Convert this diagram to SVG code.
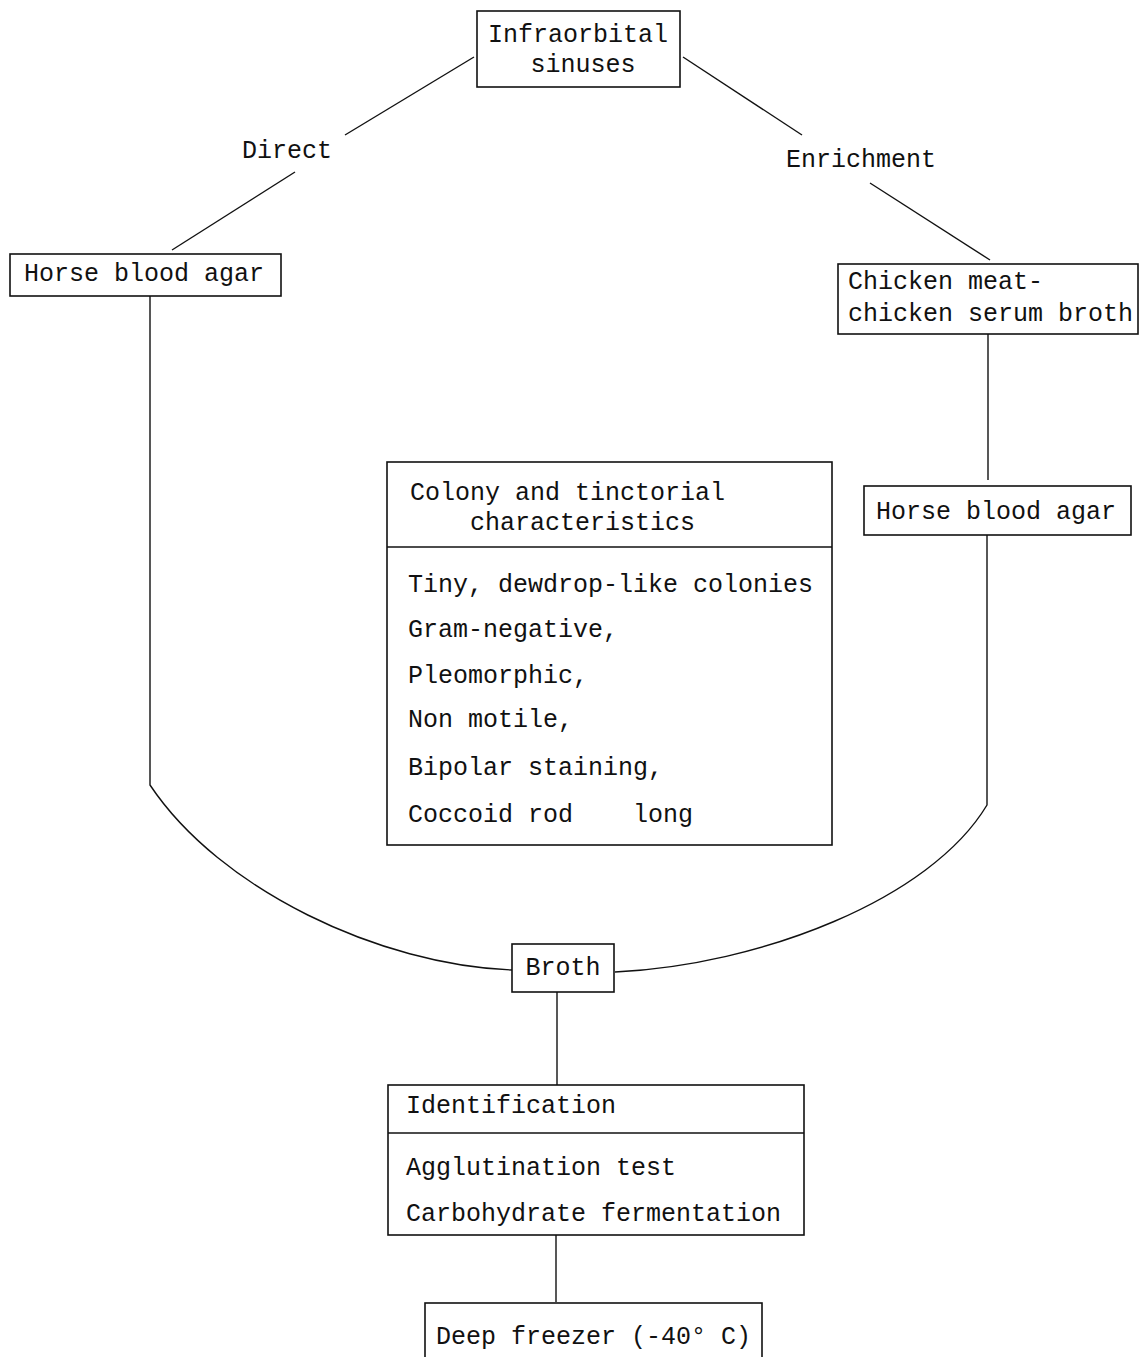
<svg xmlns="http://www.w3.org/2000/svg" width="1140" height="1357" viewBox="0 0 1140 1357">
<style>
.b{fill:none;stroke:#111;stroke-width:1.6}
.c{fill:none;stroke:#111;stroke-width:1.4}
text{font-family:"Liberation Mono","DejaVu Sans Mono",monospace;font-size:25px;fill:#111}
</style>
<rect width="1140" height="1357" fill="#fff"/>
<g id="connectors">
<path class="c" d="M474,57 L345,135"/>
<path class="c" d="M295,172 L172,250"/>
<path class="c" d="M683,57 L802,135"/>
<path class="c" d="M870,183 L990,260"/>
<path class="c" d="M988,334 L988,480"/>
<path class="c" d="M150,296 L150,785 C220,890 380,965 512,970"/>
<path class="c" d="M987,535 L987,805 C930,900 760,965 615,972"/>
<path class="c" d="M557,992 L557,1085"/>
<path class="c" d="M556,1235 L556,1302"/>
<text x="287" y="158" text-anchor="middle">Direct</text>
<text x="861" y="167" text-anchor="middle">Enrichment</text>
</g>
<g id="infraorbital">
<rect class="b" x="477" y="11" width="203" height="76"/>
<text x="578" y="42" text-anchor="middle">Infraorbital</text>
<text x="583" y="72" text-anchor="middle">sinuses</text>
</g>
<g id="hba-left">
<rect class="b" x="10" y="254" width="271" height="42"/>
<text x="24" y="281">Horse blood agar</text>
</g>
<g id="chicken">
<rect class="b" x="838" y="264" width="300" height="70"/>
<text x="848" y="289">Chicken meat-</text>
<text x="848" y="321">chicken serum broth</text>
</g>
<g id="hba-right">
<rect class="b" x="864" y="486" width="267" height="49"/>
<text x="876" y="519">Horse blood agar</text>
</g>
<g id="colony">
<rect class="b" x="387" y="462" width="445" height="383"/>
<line class="b" x1="387" y1="547" x2="832" y2="547"/>
<text x="410" y="500">Colony and tinctorial</text>
<text x="470" y="530">characteristics</text>
<text x="408" y="592">Tiny, dewdrop-like colonies</text>
<text x="408" y="637">Gram-negative,</text>
<text x="408" y="683">Pleomorphic,</text>
<text x="408" y="727">Non motile,</text>
<text x="408" y="775">Bipolar staining,</text>
<text x="408" y="822" xml:space="preserve">Coccoid rod    long</text>
</g>
<g id="broth">
<rect class="b" x="512" y="944" width="102" height="48"/>
<text x="563" y="975" text-anchor="middle">Broth</text>
</g>
<g id="identification">
<rect class="b" x="388" y="1085" width="416" height="150"/>
<line class="b" x1="388" y1="1133" x2="804" y2="1133"/>
<text x="406" y="1113">Identification</text>
<text x="406" y="1175">Agglutination test</text>
<text x="406" y="1221">Carbohydrate fermentation</text>
</g>
<g id="freezer">
<rect class="b" x="425" y="1303" width="337" height="60"/>
<text x="436" y="1344">Deep freezer (-40° C)</text>
</g>
</svg>
